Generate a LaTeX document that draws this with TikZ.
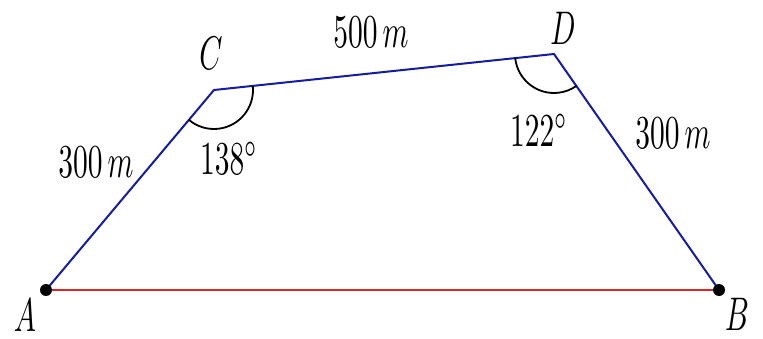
\documentclass[tikz,border=0pt]{standalone}
\definecolor{sideblue}{RGB}{20,28,160}
\definecolor{basered}{RGB}{222,36,36}
\tikzset{
  lbl/.style={inner sep=0pt},
  side/.style={draw=sideblue, line width=2pt, line join=miter},
  anglearc/.style={draw=black, line width=1.8pt},
  pt/.style={fill=black}
}
\newcommand{\tallt}[1]{\scalebox{2.95}[4.72]{$#1$}}
\begin{document}
\begin{tikzpicture}[x=1pt,y=1pt]
\useasboundingbox (0,0) rectangle (763,338);
\coordinate (A) at (46,48);
\coordinate (B) at (719,48);
\coordinate (C) at (214,248);
\coordinate (D) at (554,284);
\draw[draw=basered, line width=2.2pt] (A) -- (B);
\draw[side] (A) -- (C) -- (D) -- (B);
\draw[anglearc] (C) ++(6:39) arc[start angle=6, end angle=-130, radius=39];
\draw[anglearc] (D) ++(186:39) arc[start angle=186, end angle=305, radius=39];
\fill[pt] (A) circle (6);
\fill[pt] (B) circle (6);
\node[lbl] (lA) at (25,23) {\tallt{A}};
\node[lbl] (lB) at (737,24) {\tallt{B}};
\node[lbl] (lC) at (211,285) {\tallt{C}};
\node[lbl] (lD) at (563,310) {\tallt{D}};
\node[lbl] (lAC) at (96,176) {\tallt{300\,m}};
\node[lbl] (lDB) at (673,205) {\tallt{300\,m}};
\node[lbl] (lCD) at (371,306) {\tallt{500\,m}};
\node[lbl] (aC) at (229,180) {\tallt{138^\circ}};
\node[lbl] (aD) at (539,208) {\tallt{122^\circ}};
\end{tikzpicture}
\end{document}
